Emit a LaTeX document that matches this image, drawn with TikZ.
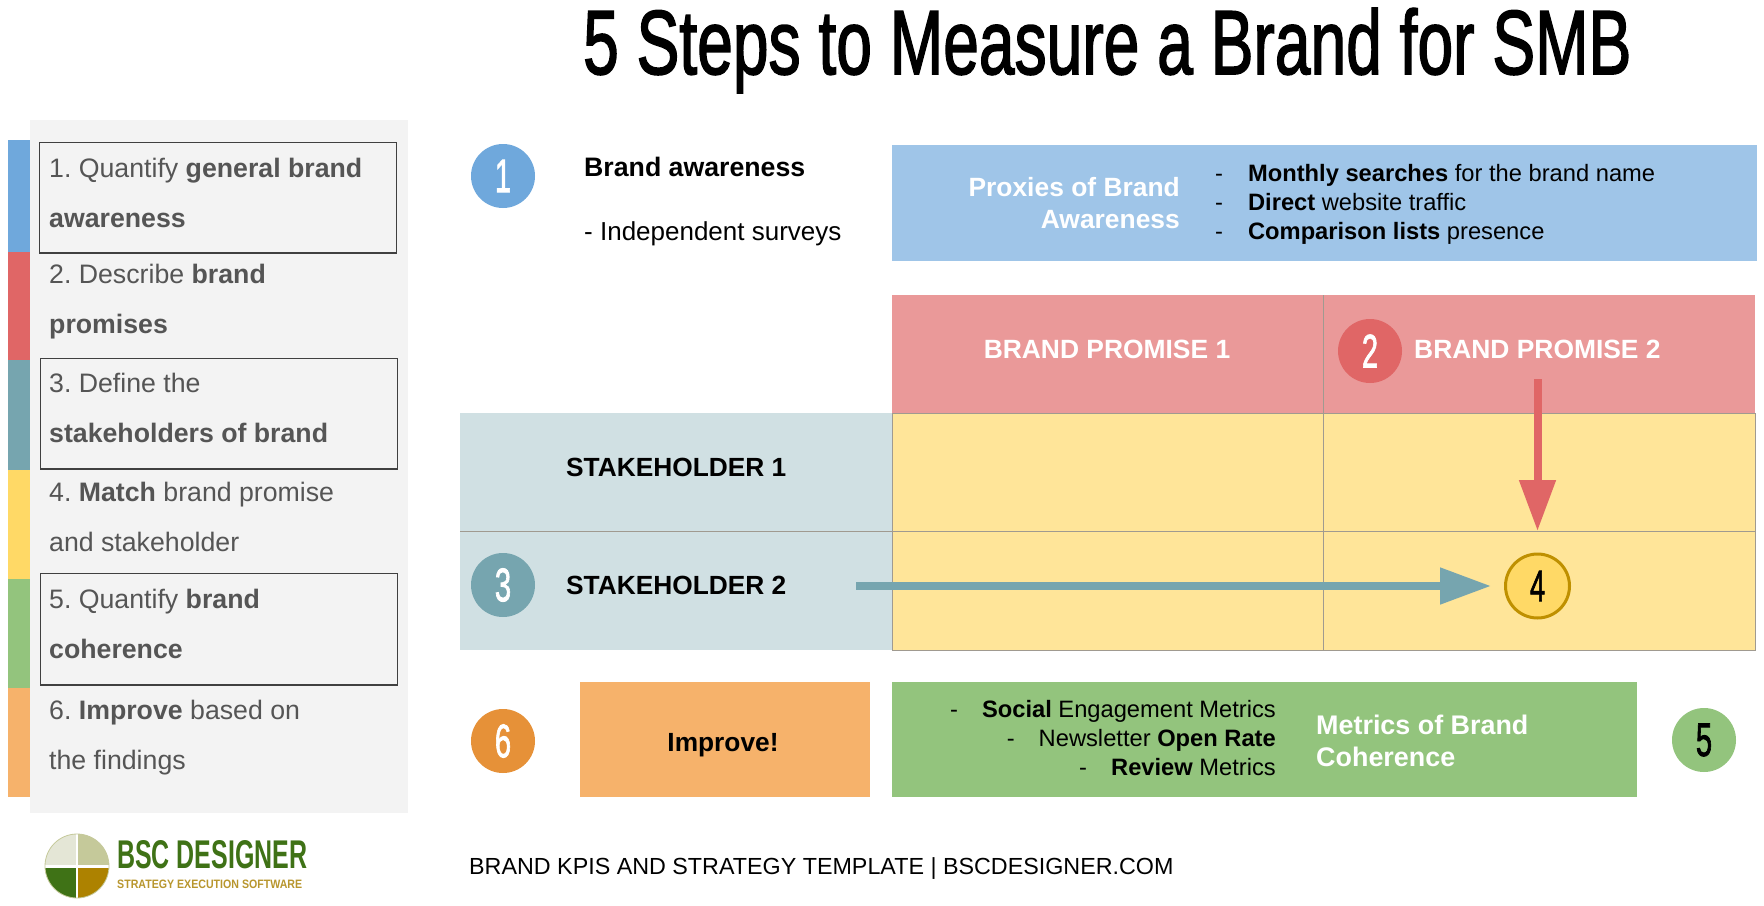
\documentclass[tikz,border=0pt]{standalone}
\usepackage{fontspec}
\setmainfont{Liberation Sans}
\newfontfamily\heavyfont[FakeBold=2]{Liberation Sans}
\usetikzlibrary{arrows.meta}
\frenchspacing
\definecolor{cblue}{HTML}{6FA8DC}
\definecolor{cred}{HTML}{E06666}
\definecolor{cteal}{HTML}{76A5AF}
\definecolor{cyellow}{HTML}{FFD966}
\definecolor{cgreen}{HTML}{93C47D}
\definecolor{corange}{HTML}{F6B26B}
\definecolor{lblue}{HTML}{9FC5E8}
\definecolor{lred}{HTML}{EA9999}
\definecolor{lteal}{HTML}{D0E0E3}
\definecolor{lyellow}{HTML}{FFE599}
\definecolor{dorange}{HTML}{E69138}
\definecolor{dyellow}{HTML}{BF9000}
\definecolor{panelgray}{HTML}{F3F3F3}
\definecolor{steptext}{HTML}{555555}
\definecolor{gridc}{HTML}{A09A90}
\definecolor{logogreen}{HTML}{3F7216}
\definecolor{logotan}{HTML}{B8962E}
\definecolor{logolight}{HTML}{E4E6D6}
\definecolor{logosage}{HTML}{C5C99A}
\definecolor{logogold}{HTML}{AD8200}
\tikzset{
  x=1pt,y=-1pt,
  steptxt/.style={anchor=base west,inner sep=0pt,align=left,text=steptext,font=\fontsize{26.7}{50}\selectfont},
  stepframe/.style={draw=black!75,line width=1.2pt},
  badge/.style={circle,minimum size=64pt,inner sep=0pt,text=white,font=\fontsize{47}{47}\selectfont\heavyfont},
  heading/.style={inner sep=0pt,text=white,font=\fontsize{26.4}{32}\selectfont\bfseries},
  bodytxt/.style={inner sep=0pt,font=\fontsize{23.7}{29}\selectfont},
  boldtxt/.style={inner sep=0pt,font=\fontsize{26.3}{26.3}\selectfont\bfseries},
  grid line/.style={draw=gridc,line width=.5pt},
  bigarrow/.style={line width=8pt,-{Triangle[length=51pt,width=35pt]}},
}
\newcommand{\numtxt}[1]{\scalebox{.62}[1]{#1}}
\begin{document}
\begin{tikzpicture}
\useasboundingbox (0,0) rectangle (1764,905);
\fill[white] (0,0) rectangle (1764,905);
% title
\node[anchor=base west,inner sep=0pt,font=\fontsize{91}{91}\selectfont\heavyfont,xscale=.705,transform shape] (title) at (583,74) {5 Steps to Measure a Brand for SMB};
% panel
\fill[panelgray] (30,120) rectangle (408,813);
\fill[cblue] (8,140) rectangle (30,252);
\fill[cred] (8,252) rectangle (30,360);
\fill[cteal] (8,360) rectangle (30,470);
\fill[cyellow] (8,470) rectangle (30,579);
\fill[cgreen] (8,579) rectangle (30,688);
\fill[corange] (8,688) rectangle (30,797);
\draw[stepframe] (39.5,142.5) rectangle (396.5,253);
\draw[stepframe] (40.5,358.5) rectangle (397.5,469);
\draw[stepframe] (40.5,573.5) rectangle (397.5,685);
\node[steptxt] (s1) at (49,227) {1. Quantify \textbf{general brand}\\\textbf{awareness}};
\node[steptxt] (s2) at (49,333) {2. Describe \textbf{brand}\\\textbf{promises}};
\node[steptxt] (s3) at (49,442) {3. Define the\\\textbf{stakeholders of brand}};
\node[steptxt] (s4) at (49,551) {4. \textbf{Match} brand promise\\and stakeholder};
\node[steptxt] (s5) at (49,658) {5. Quantify \textbf{brand}\\\textbf{coherence}};
\node[steptxt] (s6) at (49,769) {6. \textbf{Improve} based on\\the findings};
% row 1
\node[badge,fill=cblue] (b1) at (503,176) {\numtxt{1}};
\node[anchor=base west,inner sep=0pt,font=\fontsize{26.7}{26.7}\selectfont\bfseries] (aw) at (584,176) {Brand awareness};
\node[anchor=base west,inner sep=0pt,font=\fontsize{26}{26}\selectfont] (sv) at (584,240) {- Independent surveys};
\fill[lblue] (892,145) rectangle (1757,261);
\node[heading,align=right,anchor=east] (prox) at (1180,203) {Proxies of Brand\\Awareness};
\node[bodytxt,anchor=west,align=left] (proxl) at (1215,204.5) {-\hspace{25pt}\textbf{Monthly searches} for the brand name\\-\hspace{25pt}\textbf{Direct} website traffic\\-\hspace{25pt}\textbf{Comparison lists} presence};
% matrix
\fill[lred] (892,295) rectangle (1755,413);
\fill[lyellow] (892,413) rectangle (1755,650);
\fill[lteal] (460,413) rectangle (892,650);
\draw[grid line] (460,531) -- (1755,531);
\draw[grid line] (892,413) -- (1755,413);
\draw[grid line] (892,650) -- (1755,650) -- (1755,413);
\draw[grid line] (892,413) -- (892,650);
\draw[grid line] (1323,295) -- (1323,650);
\node[heading] (bp1) at (1107,349) {BRAND PROMISE 1};
\node[heading,anchor=west] (bp2) at (1414,349) {BRAND PROMISE 2};
\node[badge,fill=cred] (b2) at (1370,351) {\numtxt{2}};
\node[boldtxt,anchor=west] (st1) at (566,467) {STAKEHOLDER 1};
\node[boldtxt,anchor=west] (st2) at (566,585) {STAKEHOLDER 2};
\node[badge,fill=cteal] (b3) at (503,585) {\numtxt{3}};
\node[badge,fill=cyellow,draw=dyellow,line width=3pt,text=black,font=\fontsize{44}{44}\selectfont\heavyfont] (b4) at (1537.5,586) {\numtxt{4}};
\coordinate (redstart) at (1537.5,379);
\coordinate (redend) at (1537.5,531);
\coordinate (tealstart) at (856,586);
\coordinate (tealend) at (1491,586);
\draw[bigarrow,cred] (redstart) -- (redend);
\draw[bigarrow,cteal] (tealstart) -- (tealend);
% bottom row
\node[badge,fill=dorange] (b6) at (503,741) {\numtxt{6}};
\fill[corange] (580,682) rectangle (870,797);
\node[boldtxt] (imp) at (723,745) {Improve!};
\fill[cgreen] (892,682) rectangle (1637,797);
\node[bodytxt,anchor=east,align=right] (ml) at (1276,738) {-\hspace{24pt}\textbf{Social} Engagement Metrics\\-\hspace{24pt}Newsletter \textbf{Open Rate}\\-\hspace{24pt}\textbf{Review} Metrics};
\node[heading,align=left,anchor=west,font=\fontsize{26.9}{32}\selectfont\bfseries] (mc) at (1316,741) {Metrics of Brand\\Coherence};
\node[badge,fill=cgreen,text=black] (b5) at (1704,740) {\numtxt{5}};
% footer
\node[anchor=base west,inner sep=0pt,font=\fontsize{23.3}{23.3}\selectfont] (foot) at (469,874) {BRAND KPIS AND STRATEGY TEMPLATE | BSCDESIGNER.COM};
% logo
\begin{scope}
\clip (77,866) circle (32);
\fill[logolight] (45,834) rectangle (76,865);
\fill[logosage] (78,834) rectangle (109,865);
\fill[logogreen] (45,867.5) rectangle (76,898);
\fill[logogold] (78,867.5) rectangle (109,898);
\end{scope}
\draw[logosage,line width=.8pt] (77,866) circle (32);
\node[anchor=base west,inner sep=0pt,text=logogreen,font=\bfseries] (logoa) at (117,868) {\resizebox{190pt}{28pt}{BSC DESIGNER}};
\node[anchor=base west,inner sep=0pt,text=logotan,font=\bfseries] (logob) at (117,888) {\resizebox{185pt}{8.5pt}{STRATEGY EXECUTION SOFTWARE}};
\end{tikzpicture}
\end{document}
